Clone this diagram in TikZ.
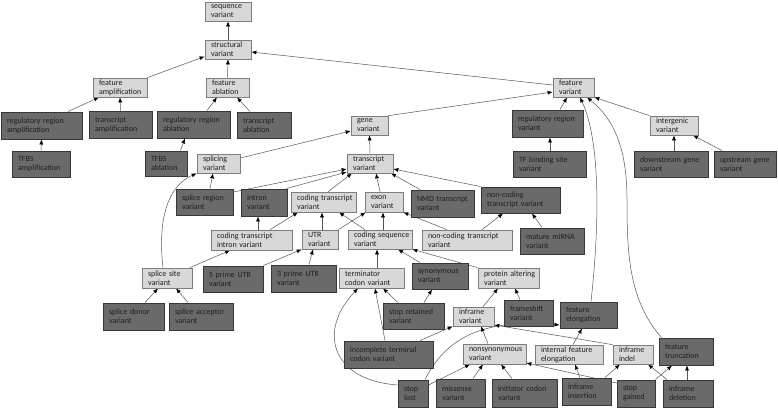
\documentclass[tikz,border=0pt]{standalone}
\usepackage{fontspec}
\setmainfont{Carlito}
\usetikzlibrary{arrows.meta}
\definecolor{dkfill}{RGB}{106,106,106}
\definecolor{dkline}{RGB}{55,55,55}
\definecolor{ltfill}{RGB}{216,216,216}
\definecolor{ltline}{RGB}{125,125,125}
\definecolor{edgecol}{RGB}{85,85,85}
\pgfdeclarelayer{bg}
\pgfsetlayers{bg,main}
\newcommand{\boxfont}{\fontsize{8}{9}\selectfont\hyphenpenalty=10000\relax\exhyphenpenalty=10000\relax}
\newcommand{\bx}[7]{%
  \pgfmathsetmacro{\bxw}{#5-#3}%
  \pgfmathsetmacro{\bxh}{#6-#4}%
  \pgfmathsetmacro{\bxcx}{(#3+#5)/2}%
  \pgfmathsetmacro{\bxcy}{(#4+#6)/2}%
  \pgfmathsetmacro{\bxtw}{\bxw-12}%
  \node[#2, text width=\bxtw pt, minimum height=\bxh pt] (#1) at (\bxcx,\bxcy) {#7};}
\begin{document}
\begin{tikzpicture}[x=1pt,y=-1pt,
  bxbase/.style={rectangle, align=left, inner xsep=6pt, inner ysep=0pt,
    font=\boxfont, text=black!88},
  lt/.style={bxbase, fill=ltfill, draw=ltline, line width=0.7pt},
  dk/.style={bxbase, fill=dkfill, draw=dkline, line width=0.9pt},
  arr/.style={draw=edgecol, line width=0.5pt, -{Latex[length=5pt,width=4pt,color=black]}}]
\useasboundingbox (0,0) rectangle (778,408);
% light nodes
\bx{seq}{lt}{205}{2}{251}{21}{sequence\\variant}
\bx{struct}{lt}{205}{40}{251}{59}{structural\\variant}
\bx{famp}{lt}{93}{78}{147}{97}{feature\\amplification}
\bx{fabl}{lt}{206}{78}{249}{97}{feature\\ablation}
\bx{gene}{lt}{351}{116}{388}{135}{gene\\variant}
\bx{fvar}{lt}{553}{78}{594}{97}{feature\\variant}
\bx{inter}{lt}{650}{116}{698}{135}{intergenic\\variant}
\bx{splicing}{lt}{197}{154}{240}{173}{splicing\\variant}
\bx{tv}{lt}{347}{154}{393}{173}{transcript\\variant}
\bx{ctv}{lt}{291}{192}{356}{212}{coding~transcript\\variant}
\bx{exon}{lt}{365}{192}{403}{212}{exon\\variant}
\bx{ctiv}{lt}{211}{230}{292}{250}{coding~transcript\\intron~variant}
\bx{utr}{lt}{302}{230}{338}{249}{UTR\\variant}
\bx{csv}{lt}{348}{230}{412}{249}{coding~sequence\\variant}
\bx{nctvl}{lt}{422}{230}{512}{250}{non-coding~transcript\\variant}
\bx{ssv}{lt}{142}{268}{192}{288}{splice~site\\variant}
\bx{tcv}{lt}{339}{268}{404}{288}{terminator\\codon~variant}
\bx{pav}{lt}{478}{268}{539}{288}{protein~altering\\variant}
\bx{infv}{lt}{453}{307}{494}{326}{inframe\\variant}
\bx{nsv}{lt}{463}{344}{526}{364}{nonsynonymous\\variant}
\bx{ife}{lt}{535}{345}{603}{364}{internal~feature\\elongation}
\bx{indel}{lt}{613}{345}{653}{364}{inframe\\indel}
% dark nodes
\bx{rra}{dk}{1}{112}{82}{139}{regulatory~region\\amplification}
\bx{ta}{dk}{89}{111}{152}{138}{transcript\\amplification}
\bx{rrab}{dk}{157}{111}{230}{138}{regulatory~region\\ablation}
\bx{tab}{dk}{237}{112}{291}{138}{transcript\\ablation}
\bx{tfbsa}{dk}{12}{151}{70}{177}{TFBS\\amplification}
\bx{tfbsab}{dk}{145}{151}{187}{176}{TFBS\\ablation}
\bx{rrv}{dk}{512}{110}{583}{137}{regulatory~region\\variant}
\bx{tfbs}{dk}{513}{151}{586}{177}{TF~binding~site\\variant}
\bx{down}{dk}{634}{151}{708}{177}{downstream~gene\\variant}
\bx{up}{dk}{714}{151}{776}{177}{upstream~gene\\variant}
\bx{srv}{dk}{176}{189}{233}{215}{splice~region\\variant}
\bx{intron}{dk}{241}{189}{287}{216}{intron\\variant}
\bx{nmd}{dk}{411}{190}{474}{217}{NMD~transcript\\variant}
\bx{nctvd}{dk}{481}{187}{560}{213}{non-coding\\transcript~variant}
\bx{mirna}{dk}{520}{228}{584}{254}{mature~miRNA\\variant}
\bx{p5}{dk}{203}{266}{263}{292}{5~prime~UTR\\variant}
\bx{p3}{dk}{271}{265}{336}{292}{3~prime~UTR\\variant}
\bx{syn}{dk}{412}{263}{468}{289}{synonymous\\variant}
\bx{sdv}{dk}{103}{303}{164}{330}{splice~donor\\variant}
\bx{sav}{dk}{169}{303}{233}{330}{splice~acceptor\\variant}
\bx{srtv}{dk}{383}{303}{444}{329}{stop~retained\\variant}
\bx{fs}{dk}{504}{300}{553}{326}{frameshift\\variant}
\bx{fel}{dk}{560}{302}{617}{328}{feature\\elongation}
\bx{ftr}{dk}{659}{338}{713}{365}{feature\\truncation}
\bx{itcv}{dk}{344}{341}{433}{368}{incomplete~terminal\\codon~variant}
\bx{sl}{dk}{398}{380}{428}{407}{stop\\lost}
\bx{mis}{dk}{436}{379}{485}{407}{missense\\variant}
\bx{icv}{dk}{492}{379}{557}{407}{initiator~codon\\variant}
\bx{ins}{dk}{562}{378}{611}{405}{inframe\\insertion}
\bx{sg}{dk}{617}{380}{655}{407}{stop\\gained}
\bx{del}{dk}{663}{380}{713}{407}{inframe\\deletion}
\begin{pgfonlayer}{bg}
\fill[white] (0,0) rectangle (778,408);
\draw[arr] (struct.north) -- (seq.south);
\draw[arr] (famp.north east) -- ([yshift=-7pt]struct.west);
\draw[arr] (fabl.north) -- (struct.south);
\draw[arr] ([yshift=2.5pt]fvar.west) -- ([yshift=-2.5pt]struct.east);
\draw[arr] ([xshift=26.5pt]rra.north) -- ([xshift=-21pt]famp.south);
\draw[arr] (ta.north) -- (famp.south);
\draw[arr] (tfbsa.north) -- (rra.south);
\draw[arr] ([xshift=13.5pt]rrab.north) -- ([xshift=-10.5pt]fabl.south);
\draw[arr] ([xshift=-14pt]tab.north) -- ([xshift=9.5pt]fabl.south);
\draw[arr] ([xshift=-7pt]tfbsab.north east) -- ([xshift=-8.5pt]rrab.south);
\draw[arr] (gene.north east) -- ([yshift=-4.5pt]fvar.west);
\draw[arr] ([yshift=5.5pt]splicing.east) -- ([yshift=-5.5pt]gene.west);
\draw[arr] (tv.north) -- (gene.south);
\draw[arr] ([xshift=12.5pt]rrv.north) -- ([xshift=-6.5pt]fvar.south);
\draw[arr] (inter.north west) -- (fvar.south east);
\draw[arr] ([xshift=0.5pt]tfbs.north) -- ([xshift=2.5pt]rrv.south);
\draw[arr] ([xshift=3pt]down.north) -- (inter.south);
\draw[arr] ([xshift=-23pt]up.north) -- ([xshift=19pt]inter.south);
\draw[arr] ([xshift=2.5pt]fel.north) .. controls (600,220) and (600,140) .. ([xshift=6.5pt]fvar.south);
\draw[arr] ([xshift=3pt]ftr.north west) .. controls (628,300) and (627,250) .. (627,200) .. controls (627,150) and (615,120) .. ([xshift=13.5pt]fvar.south);
\draw[arr] ([xshift=5.5pt]srv.north) -- ([xshift=-5.5pt]splicing.south);
\draw[arr] ([yshift=10pt]srv.east) -- ([yshift=-5.5pt]tv.west);
\draw[arr] ([xshift=-1pt]intron.north east) -- ([yshift=-8.5pt]tv.west);
\draw[arr] ([xshift=4.5pt]ctv.north) -- ([xshift=-18pt]tv.south);
\draw[arr] ([xshift=-4pt]exon.north) -- ([xshift=6pt]tv.south);
\draw[arr] ([xshift=-22.5pt]nmd.north) -- ([xshift=21pt]tv.south);
\draw[arr] (nctvd.north west) -- ([yshift=-5.5pt]tv.east);
\draw[arr] ([xshift=6.5pt]ctiv.north) -- ([xshift=-6pt]intron.south);
\draw[arr] ([xshift=18.5pt]ctiv.north) -- ([xshift=-25.5pt]ctv.south);
\draw[arr] ([xshift=2pt]utr.north) -- ([xshift=-1.5pt]ctv.south);
\draw[arr] (utr.north east) -- ([xshift=1pt]exon.south west);
\draw[arr] ([xshift=-15pt]csv.north) -- ([xshift=15.5pt]ctv.south);
\draw[arr] ([xshift=3pt]csv.north) -- ([xshift=-1pt]exon.south);
\draw[arr] ([xshift=-20pt]nctvl.north) -- (exon.south east);
\draw[arr] ([xshift=15pt]nctvl.north) -- ([xshift=-17.5pt]nctvd.south);
\draw[arr] ([xshift=-10pt]mirna.north) -- ([xshift=11.5pt]nctvd.south);
\draw[arr] ([xshift=23pt]ssv.north) -- ([xshift=-21.5pt]ctiv.south);
\draw[arr] ([xshift=-4pt]ssv.north) .. controls (157,215) and (170,185) .. (splicing.south west);
\draw[arr] ([xshift=11.5pt]sdv.north) -- ([xshift=-9pt]ssv.south);
\draw[arr] ([xshift=-13pt]sav.north) -- ([xshift=9pt]ssv.south);
\draw[arr] (p5.north east) -- (utr.south west);
\draw[arr] ([xshift=5.5pt]p3.north) -- ([xshift=-7pt]utr.south);
\draw[arr] ([xshift=5.5pt]tcv.north) -- ([xshift=-3pt]csv.south);
\draw[arr] ([xshift=-20pt]syn.north) -- ([xshift=18pt]csv.south);
\draw[arr] (pav.north west) -- (csv.south east);
\draw[arr] ([xshift=-15.5pt]srtv.north) -- ([xshift=11.5pt]tcv.south);
\draw[arr] ([xshift=10.5pt]srtv.north) -- ([xshift=-8pt]syn.south);
\draw[arr] ([xshift=-3.5pt]itcv.north) -- ([xshift=3.5pt]tcv.south);
\draw[arr] ([xshift=31.5pt]itcv.north) -- (infv.south west);
\draw[arr] ([yshift=8.5pt]sl.west) .. controls (330,380) and (318,330) .. ([xshift=-13.5pt]tcv.south);
\draw[arr] ([yshift=8.5pt]sl.east) -- ([xshift=-24.5pt]nsv.south);
\draw[arr] ([xshift=12pt]sl.north) .. controls (445,340) and (480,318) .. ([yshift=-10pt]fel.west);
\draw[arr] ([xshift=12.5pt]mis.north) -- ([xshift=-11.5pt]nsv.south);
\draw[arr] ([xshift=-12.5pt]icv.north) -- ([xshift=6.5pt]nsv.south);
\draw[arr] ([xshift=-6.5pt]nsv.north) -- ([xshift=7.5pt]infv.south);
\draw[arr] (indel.north west) -- ([yshift=-8.5pt]infv.east);
\draw[arr] ([xshift=9.5pt]infv.north) -- ([xshift=-10.5pt]pav.south);
\draw[arr] ([xshift=-8.5pt]fs.north) -- ([xshift=6.5pt]pav.south);
\draw[arr] ([xshift=4pt]ife.north) -- ([xshift=-6.5pt]fel.south);
\draw[arr] ([xshift=-6.5pt]ins.north) -- ([xshift=6pt]ife.south);
\draw[arr] ([xshift=18.5pt]ins.north) -- ([xshift=-13pt]indel.south);
\draw[arr] ([yshift=10.5pt]sg.west) -- ([yshift=-9pt]nsv.east);
\draw[arr] (sg.north east) -- ([xshift=-14pt]ftr.south);
\draw[arr] ([xshift=-1pt]del.north) -- ([xshift=1pt]ftr.south);
\draw[arr] ([xshift=-21pt]del.north) -- ([xshift=15pt]indel.south);
\end{pgfonlayer}
\end{tikzpicture}
\end{document}
